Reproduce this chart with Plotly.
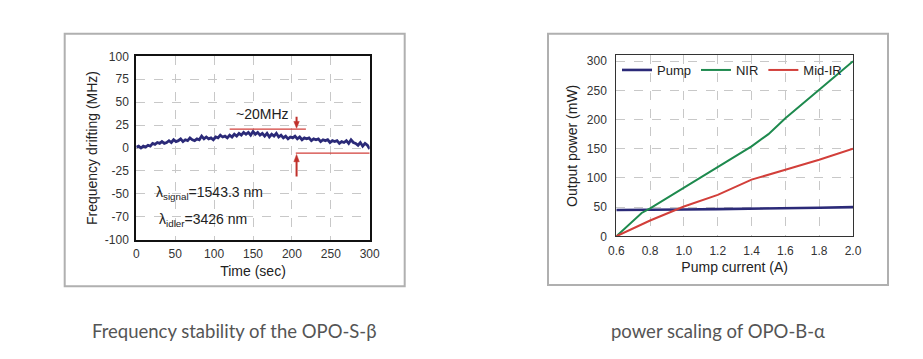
import plotly.graph_objects as go

# ---------------- data ----------------
time_s = list(range(0, 301, 3))
drift_mhz = [1, 2, 0, 2, 1, 3, 2, 5, 4, 6, 5, 7, 5, 6, 8, 6, 9, 7, 8, 10,
             7, 9, 8, 11, 9, 8, 10, 9, 13, 10, 12, 10, 11, 9, 12, 11, 14, 12, 13, 11,
             14, 12, 15, 13, 16, 14, 17, 15, 17, 14, 18, 15, 17, 14, 16, 13, 16, 12, 15, 13,
             16, 12, 14, 11, 13, 10, 12, 11, 13, 10, 12, 9, 11, 10, 11, 8, 10, 9, 10, 7,
             9, 8, 9, 6, 8, 7, 8, 5, 7, 6, 8, 5, 9, 6, 5, 3, 6, 2, 5, 3, -1]

left_ytick_vals = [100, 75, 50, 25, 0, -25, -50, -75, -100]
left_ytick_text = ["100", "75", "50", "25", "0", "-25", "-50", "-70", "-100"]
left_xtick_vals = [0, 50, 100, 150, 200, 250, 300]

pump_current = [0.6, 0.7, 0.75, 0.8, 1.0, 1.2, 1.4, 1.5, 1.6, 1.8, 2.0]
pump_mw = [45, 45, 45, 45.5, 46, 46.5, 47, 47.5, 48, 49, 50]
nir_mw = [0, 26, 40, 48, 83, 118, 154, 175, 202, 251, 300]
midir_mw = [0, 14, 21, 27, 51, 71, 97, 106, 114, 131, 150]

right_xtick_vals = [0.6, 0.8, 1.0, 1.2, 1.4, 1.6, 1.8, 2.0]
right_xtick_text = ["0.6", "0.8", "1.0", "1.2", "1.4", "1.6", "1.8", "2.0"]
right_ytick_vals = [0, 50, 100, 150, 200, 250, 300]

captions = ["Frequency stability of the OPO-S-β", "power scaling of OPO-B-α"]

# ---------------- figure ----------------
W, H = 923, 359
PF = "Liberation Sans, Arial, sans-serif"
NAVY = "#2b2a78"
GREEN = "#1e8a4e"
RED = "#d23f3a"
ARROW = "#c0302b"
GRID = "#c8c8c8"

fig = go.Figure()

fig.add_trace(go.Scatter(x=time_s, y=drift_mhz, mode="lines",
                         line=dict(color=NAVY, width=2.8),
                         xaxis="x", yaxis="y", showlegend=False))

fig.add_trace(go.Scatter(x=pump_current, y=pump_mw, mode="lines", name="Pump",
                         line=dict(color=NAVY, width=2.6), xaxis="x2", yaxis="y2"))
fig.add_trace(go.Scatter(x=pump_current, y=nir_mw, mode="lines", name="NIR",
                         line=dict(color=GREEN, width=2), xaxis="x2", yaxis="y2"))
fig.add_trace(go.Scatter(x=pump_current, y=midir_mw, mode="lines", name="Mid-IR",
                         line=dict(color=RED, width=2), xaxis="x2", yaxis="y2"))

def px(xp):
    return xp / W

def py(yp):
    return 1 - yp / H

axis_common = dict(showgrid=True, gridcolor=GRID, griddash="dash", gridwidth=1,
                   zeroline=False, ticks="", tickfont=dict(family=PF, size=12, color="#333"),
                   mirror=True, showline=True, automargin=False)

fig.update_layout(
    template="none",
    width=W, height=H, margin=dict(l=0, r=0, t=0, b=0, pad=0, autoexpand=False),
    paper_bgcolor="white", plot_bgcolor="white",
    xaxis=dict(domain=[px(128.3), px(361.7)], range=[0, 300], anchor="y",
               tickvals=left_xtick_vals, linecolor="#111", linewidth=2, ticklabelstandoff=2,
               title=dict(text="Time (sec)", font=dict(family=PF, size=14, color="#222"), standoff=6),
               **axis_common),
    yaxis=dict(domain=[py(231.7), py(48.3)], range=[-100, 100], anchor="x",
               tickvals=left_ytick_vals, ticktext=left_ytick_text,
               linecolor="#111", linewidth=2, ticklabelstandoff=3,
               title=dict(text="Frequency drifting (MHz)", font=dict(family=PF, size=14, color="#222"), standoff=4),
               **axis_common),
    xaxis2=dict(domain=[px(608.3), px(845)], range=[0.6, 2.0], anchor="y2",
                tickvals=right_xtick_vals, ticktext=right_xtick_text,
                linecolor="#333", linewidth=1, ticklabelstandoff=3,
                title=dict(text="Pump current (A)", font=dict(family=PF, size=14, color="#222"), standoff=5),
                **axis_common),
    yaxis2=dict(domain=[py(228.3), py(47.3)], range=[0, 310], anchor="x2",
                tickvals=right_ytick_vals, linecolor="#333", linewidth=1, ticklabelstandoff=6,
                title=dict(text="Output power (mW)", font=dict(family=PF, size=14, color="#222"), standoff=5),
                **axis_common),
    legend=dict(orientation="h", x=px(609), xanchor="left", y=py(47), yanchor="top",
                bgcolor="rgba(0,0,0,0)", font=dict(family=PF, size=13, color="#222"),
                itemwidth=30, tracegroupgap=0, traceorder="normal"),
    showlegend=True,
)

# outer gray frames
for x0, x1, y0, y1 in [(56.7, 396.7, 25.7, 278.3), (540, 880, 25.7, 277)]:
    fig.add_shape(type="rect", xref="paper", yref="paper",
                  x0=px(x0), x1=px(x1), y0=py(y1), y1=py(y0),
                  line=dict(color="#b0b0b0", width=2), fillcolor="rgba(0,0,0,0)", layer="below")

# red annotation lines on left chart
fig.add_shape(type="line", xref="x", yref="y", x0=120, x1=218, y0=20.5, y1=20.5,
              line=dict(color=RED, width=1.3))
fig.add_shape(type="line", xref="x", yref="y", x0=205, x1=300, y0=-5.5, y1=-5.5,
              line=dict(color=RED, width=1.3))
# arrow shafts and heads
fig.add_shape(type="line", xref="x", yref="y", x0=206, x1=206, y0=34, y1=28,
              line=dict(color=ARROW, width=2))
fig.add_shape(type="path", xref="x", yref="y", path="M 202.5 29 L 209.5 29 L 206 21.5 Z",
              fillcolor=ARROW, line=dict(color=ARROW, width=0.5))
fig.add_shape(type="line", xref="x", yref="y", x0=206, x1=206, y0=-31, y1=-14,
              line=dict(color=ARROW, width=2))
fig.add_shape(type="path", xref="x", yref="y", path="M 202.5 -15 L 209.5 -15 L 206 -7 Z",
              fillcolor=ARROW, line=dict(color=ARROW, width=0.5))

fig.add_annotation(x=162, y=37, xref="x", yref="y", text="~20MHz", showarrow=False,
                   font=dict(family=PF, size=14, color="#222"))
fig.add_annotation(x=23, y=-49, xref="x", yref="y", xanchor="left",
                   text="λ<sub>signal</sub>=1543.3 nm", showarrow=False,
                   font=dict(family=PF, size=14, color="#222"))
fig.add_annotation(x=27, y=-78, xref="x", yref="y", xanchor="left",
                   text="λ<sub>idler</sub>=3426 nm", showarrow=False,
                   font=dict(family=PF, size=14, color="#222"))

# captions
for cx, txt in [((56.7 + 396.7) / 2, captions[0]), ((540 + 880) / 2, captions[1])]:
    fig.add_annotation(x=px(cx), y=py(323), xref="paper", yref="paper", text=txt,
                       showarrow=False, xanchor="center", yanchor="middle",
                       font=dict(family="Lato, sans-serif", size=18.5, color="#555"))

fig.write_html("out.html")
